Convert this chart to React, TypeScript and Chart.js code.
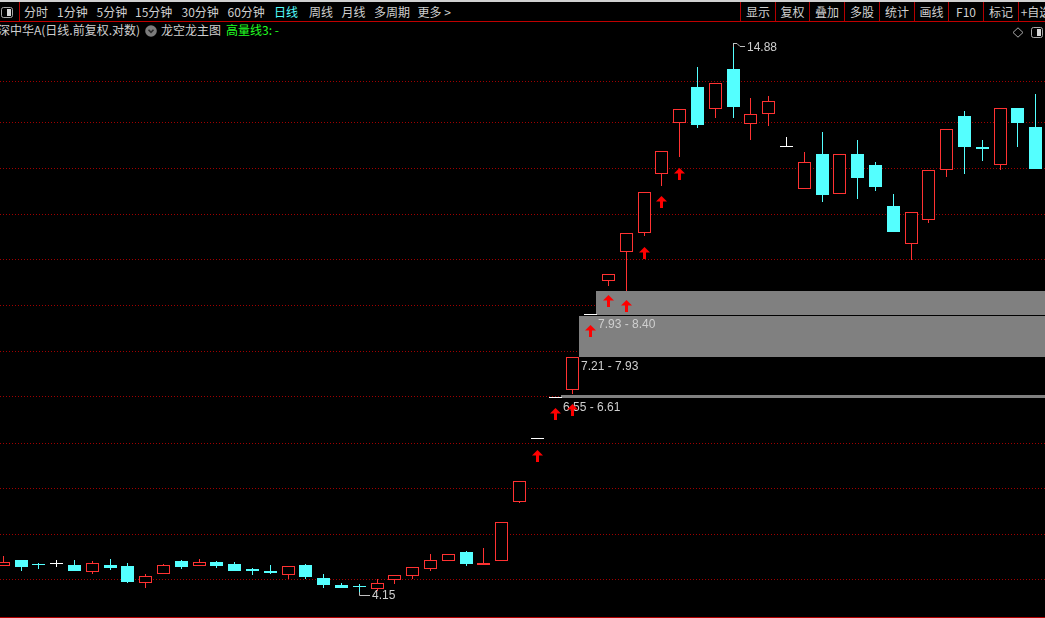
import React, { useEffect, useRef } from "react";
import { Chart, registerables } from "chart.js";
Chart.register(...registerables);

// ---- data (daily candles, log-price chart) ----
const opens = [4.44, 4.50, 4.46, 4.46, 4.45, 4.38, 4.45, 4.44, 4.27, 4.36, 4.49, 4.44, 4.48, 4.46, 4.41, 4.39, 4.35, 4.45, 4.32, 4.25, 4.24, 4.21, 4.30, 4.34, 4.41, 4.49, 4.59, 4.45, 4.49, 5.15, 5.96, 6.55, 6.67, 7.93, 8.59, 9.18, 9.60, 11.00, 12.37, 13.46, 12.78, 14.03, 12.35, 12.63, 11.70, 10.63, 11.52, 10.51, 11.52, 11.24, 10.22, 9.36, 9.90, 11.09, 12.58, 11.70, 11.22, 12.82, 12.27];
const highs = [4.54, 4.50, 4.47, 4.50, 4.50, 4.49, 4.51, 4.47, 4.36, 4.46, 4.50, 4.51, 4.49, 4.48, 4.42, 4.45, 4.44, 4.46, 4.36, 4.27, 4.26, 4.31, 4.35, 4.43, 4.57, 4.57, 4.60, 4.63, 4.92, 5.41, 5.96, 6.55, 7.21, 7.93, 8.72, 9.60, 10.56, 11.61, 12.80, 14.08, 13.58, 14.88, 13.12, 13.18, 11.99, 11.58, 12.13, 11.52, 11.90, 11.31, 10.50, 10.07, 11.10, 12.20, 12.73, 11.90, 12.81, 12.82, 13.24];
const lows = [4.44, 4.39, 4.41, 4.43, 4.39, 4.36, 4.40, 4.27, 4.22, 4.36, 4.41, 4.44, 4.42, 4.39, 4.35, 4.36, 4.31, 4.31, 4.22, 4.22, 4.15, 4.19, 4.26, 4.31, 4.39, 4.49, 4.44, 4.45, 4.49, 5.14, 5.96, 6.55, 6.61, 7.93, 8.49, 8.40, 9.54, 10.71, 11.45, 12.25, 12.53, 12.53, 11.91, 12.28, 11.70, 10.63, 10.32, 10.51, 10.39, 10.58, 9.62, 9.02, 9.83, 10.93, 11.00, 11.34, 11.09, 11.71, 11.13];
const closes = [4.48, 4.43, 4.45, 4.46, 4.39, 4.47, 4.42, 4.28, 4.34, 4.45, 4.43, 4.48, 4.44, 4.39, 4.39, 4.37, 4.44, 4.33, 4.25, 4.22, 4.23, 4.27, 4.35, 4.43, 4.50, 4.57, 4.46, 4.47, 4.92, 5.41, 5.96, 6.55, 7.21, 7.93, 8.72, 9.60, 10.56, 11.61, 12.80, 12.33, 13.58, 12.86, 12.63, 13.03, 11.70, 11.30, 10.48, 11.52, 10.90, 10.68, 9.62, 10.07, 11.10, 12.20, 11.71, 11.66, 12.81, 12.38, 11.13];

// buy-signal arrows (candle index, price level)
const signalIdx = [30, 31, 32, 33, 34, 35, 36, 37, 38];
const signalVals = [5.73, 6.31, 6.37, 7.65, 8.19, 8.11, 9.16, 10.31, 11.0];

// price gaps (start candle index, low, high)
const gapStartIdx = [31, 32, 33];
const gapLow = [6.55, 7.21, 7.93];
const gapHigh = [6.61, 7.93, 8.4];

// horizontal grid levels
const gridPrices = [4.3, 4.78, 5.31, 5.9, 6.57, 7.29, 8.11, 9.02, 10.01, 11.13, 12.38, 13.62];

// extreme markers
const peakIdx = 41;
const peakVal = 14.88;
const troughIdx = 20;
const troughVal = 4.15;

// header texts
const periodTabs = ["分时", "1分钟", "5分钟", "15分钟", "30分钟", "60分钟", "日线", "周线", "月线", "多周期", "更多 >"];
const activeTab = "日线";
const toolButtons = ["显示", "复权", "叠加", "多股", "统计", "画线", "F10", "标记", "+自选"];
const titleText = "深中华A(日线.前复权.对数)";
const indicatorName = "龙空龙主图";
const indicatorValue = "高量线3: -";

// ---- style ----
const RED = "#ff3232";
const CYAN = "#54ffff";
const WHITE = "#ffffff";
const TEXT = "#cfcfcf";
const tabLeft = [24, 57, 96.5, 135, 181.5, 227.5, 274, 309, 341.5, 374, 417.5];
const sepX = [740, 775, 809, 844, 879, 914, 948, 983, 1018, 1053];

function candleColor(i: number) {
  if (closes[i] > opens[i]) return RED;
  if (closes[i] < opens[i]) return CYAN;
  return WHITE;
}

function makeArrow() {
  const c = document.createElement("canvas");
  c.width = 11;
  c.height = 12;
  const g = c.getContext("2d")!;
  g.fillStyle = "#ff0000";
  g.beginPath();
  g.moveTo(5.5, 0);
  g.lineTo(11, 5.5);
  g.lineTo(0, 5.5);
  g.closePath();
  g.fill();
  g.fillRect(4, 5, 3, 7);
  return c;
}

// pixel-snap elements computed by the scales so thin strokes stay crisp
const snapPlugin = {
  id: "snap",
  beforeDatasetsDraw(chart: any) {
    chart.data.datasets.forEach((_: any, di: number) => {
      const meta = chart.getDatasetMeta(di);
      meta.data.forEach((el: any) => {
        el.x = Math.floor(el.x) + 0.5;
        if (meta.type === "bar") {
          el.y = Math.round(el.y);
          el.base = Math.round(el.base);
          if (el.y === el.base && di === 0) el.y = el.base - 1;
        } else {
          el.y = Math.round(el.y);
        }
      });
    });
  },
};

const overlayPlugin = {
  id: "overlay",
  beforeDatasetsDraw(chart: any) {
    const { ctx, chartArea, scales } = chart;
    const x = scales.x;
    const y = scales.y;
    ctx.save();
    ctx.font = '12px "Liberation Sans", Arial, sans-serif';
    ctx.textBaseline = "middle";
    gapStartIdx.forEach((idx, k) => {
      const left = Math.round(x.getPixelForValue(idx + 0.32));
      const top = Math.floor(y.getPixelForValue(gapHigh[k])) + 1;
      const bottom = Math.round(y.getPixelForValue(gapLow[k]));
      ctx.fillStyle = "#808080";
      ctx.fillRect(left, top, chartArea.right - left, Math.max(2, bottom - top));
      ctx.fillStyle = TEXT;
      ctx.fillText(`${gapLow[k].toFixed(2)} - ${gapHigh[k].toFixed(2)}`, left + 2, bottom + 10);
    });
    ctx.restore();
  },
  afterDatasetsDraw(chart: any) {
    const { ctx, scales } = chart;
    const x = scales.x;
    const y = scales.y;
    ctx.save();
    ctx.font = '12px "Liberation Sans", Arial, sans-serif';
    ctx.textBaseline = "middle";
    ctx.strokeStyle = "#c0c0c0";
    ctx.fillStyle = TEXT;
    ctx.lineWidth = 1;
    // peak
    const px = Math.floor(x.getPixelForValue(peakIdx));
    const py = Math.round(y.getPixelForValue(peakVal));
    ctx.beginPath();
    ctx.moveTo(px + 0.5, py + 4);
    ctx.lineTo(px + 0.5, py + 0.5);
    ctx.lineTo(px + 4, py + 0.5);
    ctx.lineTo(px + 7, py + 3.5);
    ctx.lineTo(px + 12, py + 3.5);
    ctx.stroke();
    ctx.fillText(peakVal.toFixed(2), px + 14, py + 5);
    // trough
    const tx = Math.floor(x.getPixelForValue(troughIdx));
    const ty = Math.round(y.getPixelForValue(troughVal));
    ctx.beginPath();
    ctx.moveTo(tx + 0.5, ty - 3);
    ctx.lineTo(tx + 0.5, ty + 0.5);
    ctx.lineTo(tx + 11, ty + 0.5);
    ctx.stroke();
    ctx.fillText(troughVal.toFixed(2), tx + 13, ty + 1);
    ctx.restore();
  },
};

function SquareIcon({ left, top }: { left: number; top: number }) {
  return (
    <svg style={{ position: "absolute", left, top }} width={12} height={11}>
      <rect x={0.5} y={0.5} width={11} height={10} rx={2} fill="none" stroke="#a8a8a8" />
      <rect x={6} y={2} width={4} height={7} fill="#d8d8d8" />
    </svg>
  );
}

export default function App() {
  const ref = useRef<HTMLCanvasElement>(null);

  useEffect(() => {
    const arrow = makeArrow();
    const idx = opens.map((_, i) => i);
    const chart = new Chart(ref.current!, {
      type: "bar",
      data: {
        datasets: [
          {
            type: "bar",
            label: "body",
            data: idx.map((i) => ({ x: i, y: [opens[i], closes[i]] })) as any,
            backgroundColor: idx.map((i) => (closes[i] > opens[i] ? "#000000" : candleColor(i))),
            borderColor: idx.map(candleColor),
            borderWidth: 1,
            borderSkipped: false,
            barThickness: 13,
            grouped: false,
            minBarLength: 1,
            inflateAmount: 0,
            order: 1,
          } as any,
          {
            type: "bar",
            label: "wick",
            data: idx.map((i) => ({ x: i, y: [lows[i], highs[i]] })) as any,
            backgroundColor: idx.map(candleColor),
            borderWidth: 0,
            barThickness: 1,
            grouped: false,
            inflateAmount: 0,
            order: 2,
          } as any,
          {
            type: "line",
            label: "signal",
            data: signalIdx.map((v, k) => ({ x: v, y: signalVals[k] })) as any,
            showLine: false,
            pointStyle: arrow as any,
            pointRadius: 6,
            order: 0,
          } as any,
        ],
      },
      options: {
        animation: false,
        responsive: false,
        events: [],
        layout: { padding: 0, autoPadding: false } as any,
        plugins: { legend: { display: false }, tooltip: { enabled: false } },
        scales: {
          x: {
            type: "linear",
            min: -0.185,
            max: 58.523,
            offset: false,
            display: false,
          },
          y: {
            type: "logarithmic",
            min: 3.946,
            max: 15.0,
            display: true,
            ticks: { display: false },
            grid: { color: "#a00000", lineWidth: 1, drawTicks: false },
            border: { display: false, dash: [1, 2] },
            afterBuildTicks: (scale: any) => {
              scale.ticks = gridPrices.map((v) => ({ value: v }));
            },
          } as any,
        },
      },
      plugins: [overlayPlugin, snapPlugin],
    });
    return () => chart.destroy();
  }, []);

  const txt = (left: number, top: number, color = TEXT): React.CSSProperties => ({
    position: "absolute",
    left,
    top,
    fontSize: 12,
    lineHeight: "12px",
    whiteSpace: "nowrap",
    color,
  });

  return (
    <div
      style={{
        position: "fixed",
        left: 0,
        top: 0,
        width: 1045,
        height: 618,
        background: "#000",
        overflow: "hidden",
        fontFamily: '"Noto Sans CJK SC", "Noto Sans", sans-serif',
      }}
    >
      {/* toolbar */}
      <div style={{ position: "absolute", left: 0, top: 0, width: 1045, height: 2, background: "#d0d0d0" }} />
      <SquareIcon left={1} top={7} />
      <div style={{ position: "absolute", left: 19, top: 2, width: 1, height: 19, background: "#b40000" }} />
      {periodTabs.map((t, i) => (
        <span key={t} style={txt(tabLeft[i], 6, t === activeTab ? CYAN : TEXT)}>
          {t}
        </span>
      ))}
      {toolButtons.map((t, i) => (
        <React.Fragment key={t}>
          <div style={{ position: "absolute", left: sepX[i], top: 2, width: 1, height: 19, background: "#b40000" }} />
          <span
            style={{
              ...txt(sepX[i] + 1, 6),
              width: sepX[i + 1] - sepX[i] - 1,
              textAlign: "center",
            }}
          >
            {t}
          </span>
        </React.Fragment>
      ))}
      <div style={{ position: "absolute", left: 0, top: 21, width: 1045, height: 1, background: "#c00000" }} />

      {/* title line */}
      <span style={txt(-2, 24)}>{titleText}</span>
      <svg style={{ position: "absolute", left: 145, top: 25 }} width={12} height={12}>
        <circle cx={6} cy={6} r={5.8} fill="#7c7c7c" />
        <path d="M3.5 4.8 L6 7.3 L8.5 4.8" fill="none" stroke="#2a2a2a" strokeWidth={1.6} />
      </svg>
      <span style={txt(161, 24)}>{indicatorName}</span>
      <span style={txt(226, 24, "#22ff22")}>{indicatorValue}</span>
      <svg style={{ position: "absolute", left: 1012, top: 27 }} width={12} height={11}>
        <path d="M6 0.8 L11 5.5 L6 10.2 L1 5.5 Z" fill="none" stroke="#a8a8a8" />
      </svg>
      <SquareIcon left={1031} top={27} />

      {/* chart */}
      <canvas
        ref={ref}
        width={1045}
        height={577}
        style={{ position: "absolute", left: 0, top: 40, width: 1045, height: 577 }}
      />
      <div style={{ position: "absolute", left: 0, top: 617, width: 1045, height: 1, background: "#b00000" }} />
    </div>
  );
}
